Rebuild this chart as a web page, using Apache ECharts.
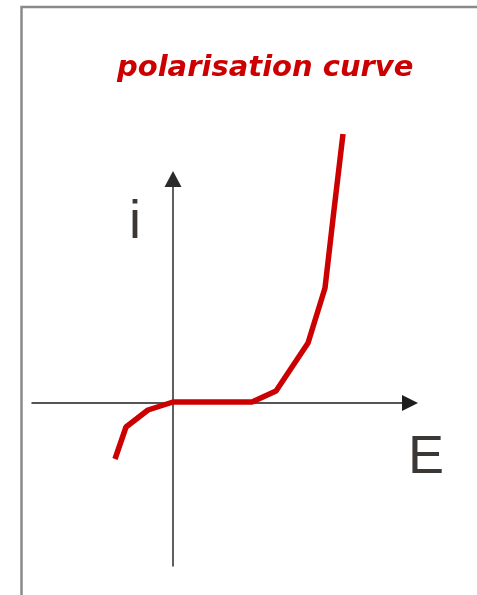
<!DOCTYPE html>
<html>
<head>
<meta charset="utf-8">
<script src="https://cdn.jsdelivr.net/npm/echarts@6/dist/echarts.min.js"></script>
<style>
  html, body { margin: 0; padding: 0; background: #ffffff; }
  #chart { width: 477px; height: 595px; }
</style>
</head>
<body>
<div id="chart"></div>
<script>
// Potential E (arbitrary units) and current i (arbitrary units)
const potentialE = [-5.8, -4.7, -2.5, 0, 7.9, 10.3, 13.5, 15.2, 16.1, 17.0];
const currentI  = [-5.6, -2.4, -0.7, 0.1, 0.1, 1.2, 6.0, 11.5, 19.3, 26.9];
const titleText = 'polarisation curve';
const xName = 'E';
const yName = 'i';

const seriesData = potentialE.map((e, k) => [e, currentI[k]]);

const chart = echarts.init(document.getElementById('chart'), null, { renderer: 'canvas' });
chart.setOption({
  animation: false,
  backgroundColor: '#ffffff',
  title: {
    text: titleText,
    left: 112,
    top: 49,
    textStyle: {
      fontFamily: 'DejaVu Sans',
      fontStyle: 'italic',
      fontWeight: 'bold',
      fontSize: 29,
      color: '#cc0000'
    }
  },
  graphic: [{
    type: 'polyline',
    shape: { points: [[21.5, 595], [21.5, 7], [477, 7]] },
    style: { stroke: '#8a8a8a', lineWidth: 2.5, fill: null },
    silent: true
  }],
  grid: { left: 32, top: 179, width: 378, height: 387, containLabel: false },
  xAxis: {
    type: 'value',
    min: -14.1,
    max: 23.7,
    name: xName,
    nameLocation: 'end',
    nameGap: -2,
    nameTextStyle: {
      fontFamily: 'Liberation Sans',
      fontSize: 54,
      color: '#3b3735',
      align: 'left',
      verticalAlign: 'top',
      lineHeight: 110
    },
    axisLine: {
      onZero: true,
      symbol: ['none', 'triangle'],
      symbolSize: [16, 16],
      lineStyle: { color: '#1e1e1e', width: 1.5 }
    },
    axisTick: { show: false },
    axisLabel: { show: false },
    splitLine: { show: false }
  },
  yAxis: {
    type: 'value',
    min: -16.3,
    max: 22.4,
    name: yName,
    nameLocation: 'end',
    nameGap: -44,
    nameTextStyle: {
      fontFamily: 'Liberation Sans',
      fontSize: 54,
      color: '#3b3735',
      align: 'right',
      verticalAlign: 'middle',
      padding: [0, 32, 0, 0]
    },
    axisLine: {
      onZero: true,
      symbol: ['none', 'triangle'],
      symbolSize: [17, 16],
      lineStyle: { color: '#2a2a2a', width: 1.5 }
    },
    axisTick: { show: false },
    axisLabel: { show: false },
    splitLine: { show: false }
  },
  series: [{
    type: 'line',
    data: seriesData,
    showSymbol: false,
    clip: false,
    lineStyle: { color: '#cc0000', width: 5.5 },
    z: 5
  }]
});
</script>
</body>
</html>
